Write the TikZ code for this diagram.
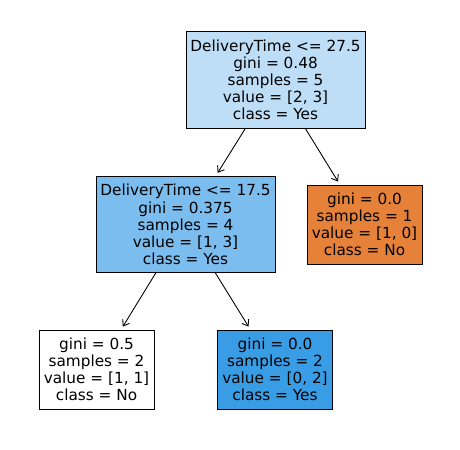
\documentclass[tikz,border=0pt]{standalone}
\usepackage{fontspec}
\setmainfont{DejaVu Sans}
\usetikzlibrary{arrows.meta}

\definecolor{yespale}{RGB}{189,222,246}
\definecolor{yesmid}{RGB}{123,189,238}
\definecolor{yesfull}{RGB}{57,157,229}
\definecolor{nofull}{RGB}{229,129,57}

\tikzset{
	treebox/.style={draw, line width=0.55pt, inner sep=0pt, outer sep=0pt, align=center,
		font=\fontsize{8.7}{9.75}\selectfont},
	splitbox/.style={treebox, minimum width=35.8mm, minimum height=19.3mm},
	leafbox/.style={treebox, minimum width=23mm, minimum height=15.8mm},
	edge/.style={line width=0.5pt, -{Straight Barb[length=1.1mm,width=1.6mm]}, shorten >=0.8mm}
}

\begin{document}
\begin{tikzpicture}[x=0.2mm, y=-0.2mm]
	\useasboundingbox (0,0) rectangle (460,449);
	
	\node[splitbox, fill=yespale] (root) at (275.5,80)
		{DeliveryTime <= 27.5\\gini = 0.48\\samples = 5\\value = [2, 3]\\class = Yes};
	\node[splitbox, fill=yesmid] (inner) at (185.5,224.5)
		{DeliveryTime <= 17.5\\gini = 0.375\\samples = 4\\value = [1, 3]\\class = Yes};
	\node[leafbox, fill=nofull] (leafno) at (364.5,224.5)
		{gini = 0.0\\samples = 1\\value = [1, 0]\\class = No};
	\node[leafbox, fill=white] (leafmix) at (96.5,369.5)
		{gini = 0.5\\samples = 2\\value = [1, 1]\\class = No};
	\node[leafbox, fill=yesfull] (leafyes) at (275,369.5)
		{gini = 0.0\\samples = 2\\value = [0, 2]\\class = Yes};
	
	\draw[edge] (root) -- (inner);
	\draw[edge] (root) -- (leafno);
	\draw[edge] (inner) -- (leafmix);
	\draw[edge] (inner) -- (leafyes);
	
\end{tikzpicture}
\end{document}
